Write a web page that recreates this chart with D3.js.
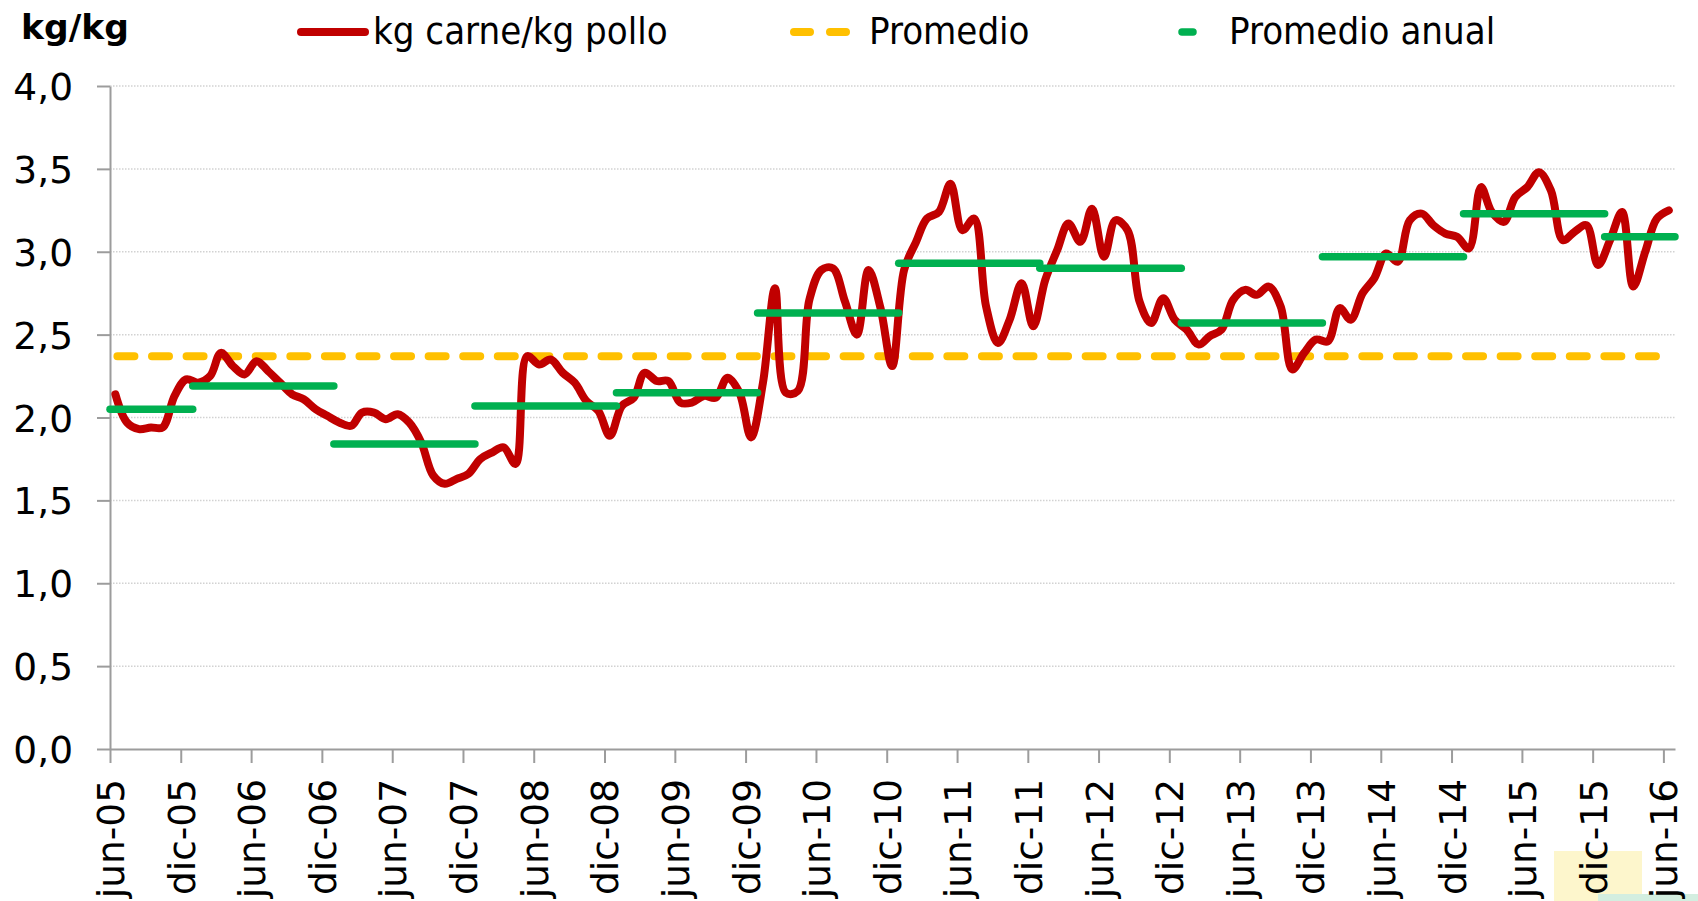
<!DOCTYPE html>
<html lang="es">
<head>
    <meta charset="UTF-8">
    <title>kg carne/kg pollo</title>
    <script src="https://cdnjs.cloudflare.com/ajax/libs/d3/7.8.5/d3.min.js"></script>
    <style>
        body { margin: 0; background: #fff; }
        svg { display: block; }
        .tick text { font-family: "DejaVu Sans", Verdana, sans-serif; font-size: 37.5px; fill: #000; }
        .legend text { font-family: "DejaVu Sans Condensed", "DejaVu Sans", sans-serif; font-stretch: condensed; font-size: 38px; fill: #000; }
    </style>
</head>
<body>
<svg width="1698" height="901"></svg>

<script>
    // monthly ratio, jun-05 .. jun-16
    const firstMonth = "2005-06";
    const ratio = [
        2.14, 1.97, 1.93, 1.94, 1.94, 2.13, 2.23,                               // jun-05 .. dic-05
        2.21, 2.25, 2.39, 2.31, 2.26, 2.34, 2.28, 2.21, 2.14, 2.11, 2.05, 2.01, // 2006
        1.97, 1.95, 2.03, 2.03, 1.99, 2.02, 1.97, 1.85, 1.65, 1.60, 1.63, 1.66, // 2007
        1.75, 1.79, 1.82, 1.72, 2.37, 2.32, 2.35, 2.27, 2.21, 2.10, 2.04, 1.89, // 2008
        2.07, 2.12, 2.27, 2.22, 2.22, 2.09, 2.09, 2.13, 2.12, 2.24, 2.15, 1.88, // 2009
        2.21, 2.78, 2.15, 2.16, 2.71, 2.89, 2.90, 2.70, 2.50, 2.89, 2.66, 2.31, // 2010
        2.89, 3.06, 3.20, 3.24, 3.41, 3.13, 3.20, 2.67, 2.45, 2.59, 2.81, 2.55, // 2011
        2.83, 3.01, 3.17, 3.06, 3.26, 2.97, 3.19, 3.13, 2.70, 2.57, 2.72, 2.59, // 2012
        2.53, 2.44, 2.49, 2.53, 2.71, 2.77, 2.74, 2.79, 2.67, 2.29, 2.39, 2.47, // 2013
        2.46, 2.66, 2.59, 2.75, 2.84, 2.99, 2.94, 3.19, 3.23, 3.16, 3.11, 3.09, // 2014
        3.02, 3.39, 3.24, 3.18, 3.33, 3.39, 3.48, 3.37, 3.07, 3.12, 3.16, 2.92, // 2015
        3.07, 3.24, 2.79, 3.00, 3.20, 3.25                                      // 2016
    ];
    const promedio = 2.37;
    const years = [2005, 2006, 2007, 2008, 2009, 2010, 2011, 2012, 2013, 2014, 2015, 2016];
    const promedioAnual = [2.05, 2.19, 1.84, 2.07, 2.15, 2.63, 2.93, 2.90, 2.57, 2.97, 3.23, 3.09];
    const xTickLabels = ["jun-05", "dic-05", "jun-06", "dic-06", "jun-07", "dic-07", "jun-08", "dic-08",
        "jun-09", "dic-09", "jun-10", "dic-10", "jun-11", "dic-11", "jun-12", "dic-12", "jun-13", "dic-13",
        "jun-14", "dic-14", "jun-15", "dic-15", "jun-16"];
    const yTicks = [0, 0.5, 1, 1.5, 2, 2.5, 3, 3.5, 4];

    const svg = d3.select("svg");
    const start = d3.timeParse("%Y-%m")(firstMonth);
    const end = d3.timeMonth.offset(start, ratio.length);           // jul-16
    const points = ratio.map((v, i) => ({ date: d3.timeDay.offset(d3.timeMonth.offset(start, i), 14), value: v }));

    const x = d3.scaleTime().domain([start, end]).range([110, 1675]);
    const y = d3.scaleLinear().domain([0, 4]).range([749, 86]);

    // faint decoration bottom right of the original picture
    svg.append("rect").attr("x", 1554).attr("y", 851).attr("width", 88).attr("height", 50).attr("fill", "#fdf6cc");
    svg.append("rect").attr("x", 1598).attr("y", 894).attr("width", 100).attr("height", 7).attr("fill", "#d3eee0");

    // dotted gridlines
    svg.append("g")
        .selectAll("line")
        .data(yTicks.filter(d => d > 0))
        .enter()
        .append("line")
        .attr("x1", x.range()[0]).attr("x2", x.range()[1])
        .attr("y1", d => y(d)).attr("y2", d => y(d))
        .attr("stroke", "#d2d2d2")
        .attr("stroke-width", 1.5)
        .attr("stroke-dasharray", "1.5,1.5");

    // axes
    const yAxis = svg.append("g")
        .attr("transform", "translate(110,0)")
        .call(d3.axisLeft(y).tickValues(yTicks).tickSize(13).tickSizeOuter(0).tickPadding(24)
            .tickFormat(d => d.toFixed(1).replace(".", ",")));
    yAxis.selectAll("text").attr("dy", null).attr("y", 13.5);

    const tickDates = d3.timeMonth.range(start, d3.timeDay.offset(end, -1), 6);
    const xAxis = svg.append("g")
        .attr("transform", "translate(0,749)")
        .call(d3.axisBottom(x).tickValues(tickDates).tickSize(14).tickSizeOuter(0)
            .tickFormat((d, i) => xTickLabels[i]));
    xAxis.selectAll("text")
        .attr("transform", "rotate(-90)")
        .attr("text-anchor", "end")
        .attr("x", -30)
        .attr("y", 13.5)
        .attr("dy", null);

    svg.selectAll(".domain, .tick line").attr("stroke", "#9c9c9c").attr("stroke-width", 2);

    // promedio (dashed)
    svg.append("line")
        .attr("x1", x(points[0].date)).attr("x2", x(points[points.length - 1].date))
        .attr("y1", y(promedio)).attr("y2", y(promedio))
        .attr("stroke", "#ffc000")
        .attr("stroke-width", 8)
        .attr("stroke-linecap", "round")
        .attr("stroke-dasharray", "17,17.58")
        .attr("stroke-dashoffset", -2);

    // monthly ratio
    const line = d3.line()
        .x(d => x(d.date))
        .y(d => y(d.value))
        .curve(d3.curveCatmullRom.alpha(0.5));

    svg.append("path")
        .datum(points)
        .attr("d", line)
        .attr("fill", "none")
        .attr("stroke", "#c00000")
        .attr("stroke-width", 8)
        .attr("stroke-linecap", "round")
        .attr("stroke-linejoin", "round");

    // promedio anual, one bar per calendar year
    svg.append("g")
        .selectAll("line")
        .data(years.map((yr, i) => ({ year: yr, value: promedioAnual[i] })))
        .enter()
        .append("line")
        .attr("x1", d => x(d3.max([start, new Date(d.year, 0, 1)])))
        .attr("x2", d => x(d3.min([end, new Date(d.year + 1, 0, 1)])))
        .attr("y1", d => y(d.value)).attr("y2", d => y(d.value))
        .attr("stroke", "#00b050")
        .attr("stroke-width", 7.5)
        .attr("stroke-linecap", "round");

    // unit label
    svg.append("text")
        .attr("x", 21).attr("y", 39)
        .attr("font-family", "DejaVu Sans, Verdana, sans-serif")
        .attr("font-weight", "bold")
        .attr("font-size", 34.5)
        .text("kg/kg");

    // legend
    const legend = svg.append("g").attr("class", "legend");
    legend.append("line")
        .attr("x1", 301).attr("x2", 365).attr("y1", 32).attr("y2", 32)
        .attr("stroke", "#c00000").attr("stroke-width", 8).attr("stroke-linecap", "round");
    legend.append("text").attr("x", 373).attr("y", 44).text("kg carne/kg pollo");

    legend.append("line")
        .attr("x1", 794).attr("x2", 846).attr("y1", 32).attr("y2", 32)
        .attr("stroke", "#ffc000").attr("stroke-width", 8).attr("stroke-linecap", "round")
        .attr("stroke-dasharray", "16,20");
    legend.append("text").attr("x", 869).attr("y", 44).text("Promedio");

    legend.append("line")
        .attr("x1", 1182).attr("x2", 1193).attr("y1", 32).attr("y2", 32)
        .attr("stroke", "#00b050").attr("stroke-width", 7.5).attr("stroke-linecap", "round");
    legend.append("text").attr("x", 1229).attr("y", 44).text("Promedio anual");
</script>
</body>
</html>
